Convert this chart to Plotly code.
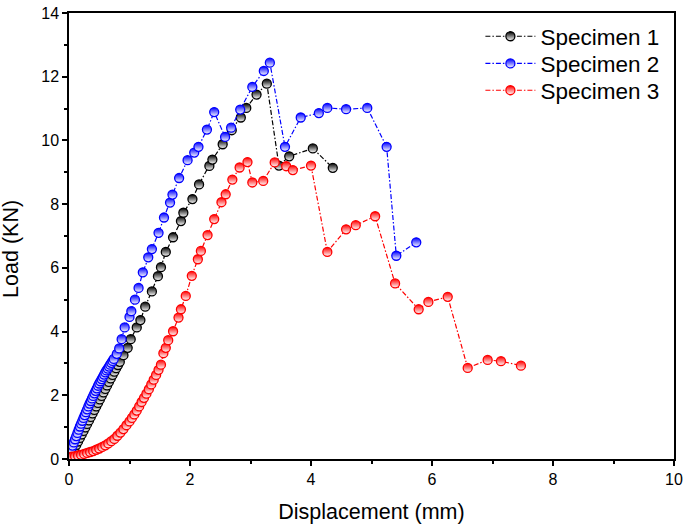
import plotly.graph_objects as go

# ---- data ----
s1_x = [0.00, 0.03, 0.06, 0.09, 0.12, 0.15, 0.18, 0.21, 0.24, 0.27, 0.30, 0.33, 0.36, 0.39,
        0.42, 0.45, 0.48, 0.51, 0.54, 0.57, 0.60, 0.63, 0.66, 0.69, 0.72, 0.75, 0.78, 0.81,
        0.84, 0.90, 0.97, 1.02, 1.12, 1.18, 1.26, 1.37, 1.47, 1.52, 1.60, 1.72, 1.85, 1.89,
        2.04, 2.15, 2.32, 2.37, 2.54, 2.69, 2.84, 2.93, 3.10, 3.27, 3.47, 3.64, 4.03, 4.36]
s1_y = [0.05, 0.13, 0.23, 0.33, 0.44, 0.55, 0.66, 0.77, 0.88, 0.99, 1.10, 1.21, 1.32, 1.43,
        1.54, 1.65, 1.76, 1.87, 1.98, 2.09, 2.20, 2.31, 2.42, 2.53, 2.64, 2.74, 2.85, 2.95,
        3.05, 3.26, 3.49, 3.76, 4.13, 4.36, 4.78, 5.26, 5.74, 6.02, 6.50, 6.96, 7.47, 7.73,
        8.16, 8.62, 9.20, 9.40, 9.88, 10.32, 10.72, 11.02, 11.44, 11.78, 9.21, 9.50, 9.75, 9.14]

s2_x = [0.00, 0.02, 0.04, 0.06, 0.08, 0.10, 0.12, 0.14, 0.16, 0.18, 0.20, 0.22, 0.24, 0.26,
        0.28, 0.30, 0.32, 0.34, 0.36, 0.38, 0.40, 0.42, 0.44, 0.46, 0.48, 0.50, 0.52, 0.54,
        0.56, 0.58, 0.60, 0.62, 0.64, 0.66, 0.68, 0.70, 0.72, 0.74, 0.79, 0.83, 0.87, 0.92,
        1.00, 1.03, 1.09, 1.15, 1.22, 1.31, 1.37, 1.48, 1.57, 1.67, 1.71, 1.82, 1.96, 2.07,
        2.14, 2.28, 2.40, 2.58, 2.68, 2.83, 3.03, 3.22, 3.32, 3.57, 3.83, 4.13, 4.27, 4.58,
        4.93, 5.25, 5.41, 5.74]
s2_y = [0.12, 0.22, 0.32, 0.42, 0.52, 0.62, 0.72, 0.82, 0.92, 1.02, 1.11, 1.20, 1.29, 1.38,
        1.47, 1.56, 1.65, 1.74, 1.82, 1.90, 1.98, 2.06, 2.14, 2.22, 2.30, 2.37, 2.44, 2.51,
        2.58, 2.65, 2.72, 2.78, 2.84, 2.90, 2.96, 3.02, 3.08, 3.14, 3.30, 3.47, 3.76, 4.13,
        4.46, 4.64, 5.00, 5.37, 5.86, 6.33, 6.59, 7.10, 7.58, 8.05, 8.30, 8.82, 9.38, 9.62,
        9.80, 10.34, 10.89, 10.11, 10.40, 10.97, 11.68, 12.18, 12.44, 9.80, 10.72, 10.86, 11.02, 10.98,
        11.02, 9.80, 6.38, 6.80]

s3_x = [0.00, 0.05, 0.10, 0.15, 0.20, 0.25, 0.30, 0.35, 0.40, 0.45, 0.50, 0.55, 0.60, 0.65,
        0.70, 0.75, 0.80, 0.85, 0.90, 0.95, 1.00, 1.04, 1.08, 1.12, 1.16, 1.20, 1.24, 1.28,
        1.32, 1.36, 1.40, 1.44, 1.48, 1.52, 1.56, 1.60, 1.64, 1.72, 1.81, 1.85, 1.93, 2.03,
        2.13, 2.18, 2.29, 2.40, 2.52, 2.59, 2.70, 2.82, 2.95, 3.03, 3.21, 3.40, 3.59, 3.70,
        4.00, 4.27, 4.58, 4.74, 5.06, 5.39, 5.78, 5.94, 6.26, 6.59, 6.92, 7.14, 7.47]
s3_y = [0.05, 0.07, 0.09, 0.11, 0.13, 0.16, 0.19, 0.22, 0.25, 0.29, 0.33, 0.38, 0.43, 0.49,
        0.56, 0.63, 0.73, 0.83, 0.94, 1.06, 1.18, 1.29, 1.40, 1.52, 1.65, 1.79, 1.92, 2.05,
        2.19, 2.34, 2.49, 2.64, 2.80, 2.96, 3.32, 3.49, 3.73, 4.01, 4.44, 4.70, 5.12, 5.75,
        6.27, 6.53, 7.03, 7.53, 8.06, 8.31, 8.77, 9.15, 9.32, 8.68, 8.73, 9.31, 9.19, 9.07,
        9.21, 6.50, 7.21, 7.34, 7.62, 5.51, 4.70, 4.93, 5.09, 2.86, 3.11, 3.07, 2.93]

names = ["Specimen 1", "Specimen 2", "Specimen 3"]
colors = ["#000000", "#0000FF", "#FF0000"]
xs = [s1_x, s2_x, s3_x]
ys = [s1_y, s2_y, s3_y]

x_ticks = [0, 2, 4, 6, 8, 10]
y_ticks = [0, 2, 4, 6, 8, 10, 12, 14]
x_title = "Displacement (mm)"
y_title = "Load (KN)"

FONT = "Arial, Liberation Sans, sans-serif"
legend_ids = ["legend", "legend2", "legend3"]
legend_y = [0.947, 0.886, 0.826]

fig = go.Figure()
for name, c, x, y, lid in zip(names, colors, xs, ys, legend_ids):
    fig.add_trace(go.Scatter(
        x=x, y=y, name=name, mode="lines+markers", legend=lid,
        line=dict(color=c, width=1.2, dash="5px,2px,1.5px,2px"),
        marker=dict(symbol="circle", size=9, color=c,
                    gradient=dict(type="vertical", color="white"),
                    line=dict(color=c, width=1.3)),
    ))

axis_common = dict(
    showline=True, linecolor="black", linewidth=1.5, mirror=True,
    ticks="outside", ticklen=5, tickwidth=1.5, tickcolor="black",
    showgrid=False, zeroline=False, automargin=False,
    tickfont=dict(family=FONT, size=16, color="black"),
    minor=dict(ticks="outside", ticklen=3, tickwidth=1.5, tickcolor="black"),
)

fig.update_xaxes(range=[0, 10], tickvals=x_ticks, **axis_common,
                 title=dict(text=x_title, font=dict(family=FONT, size=21.5, color="black"),
                            standoff=17))
fig.update_yaxes(range=[0, 14], tickvals=y_ticks, **axis_common)
fig.update_xaxes(minor=dict(dtick=1, tickmode="linear", tick0=0))
fig.update_yaxes(minor=dict(dtick=1, tickmode="linear", tick0=0))

fig.add_annotation(text=y_title, xref="paper", yref="paper", x=-0.0959, y=0.471,
                   xanchor="center", yanchor="middle", textangle=-90, showarrow=False,
                   font=dict(family=FONT, size=21.5, color="black"))

legend_style = dict(xanchor="left", yanchor="middle", bgcolor="rgba(0,0,0,0)",
                    itemwidth=50, font=dict(family=FONT, size=22.5, color="black"))

fig.update_layout(
    width=685, height=529,
    margin=dict(l=69, r=11, t=13, b=70, autoexpand=False),
    paper_bgcolor="white", plot_bgcolor="white",
    font=dict(family=FONT, color="black"),
    legend=dict(x=0.68, y=legend_y[0], **legend_style),
    legend2=dict(x=0.68, y=legend_y[1], **legend_style),
    legend3=dict(x=0.68, y=legend_y[2], **legend_style),
    showlegend=True,
)

fig.write_html("out.html", config={"displayModeBar": False},
               post_script="document.body.style.margin='0';document.body.style.padding='0';")
